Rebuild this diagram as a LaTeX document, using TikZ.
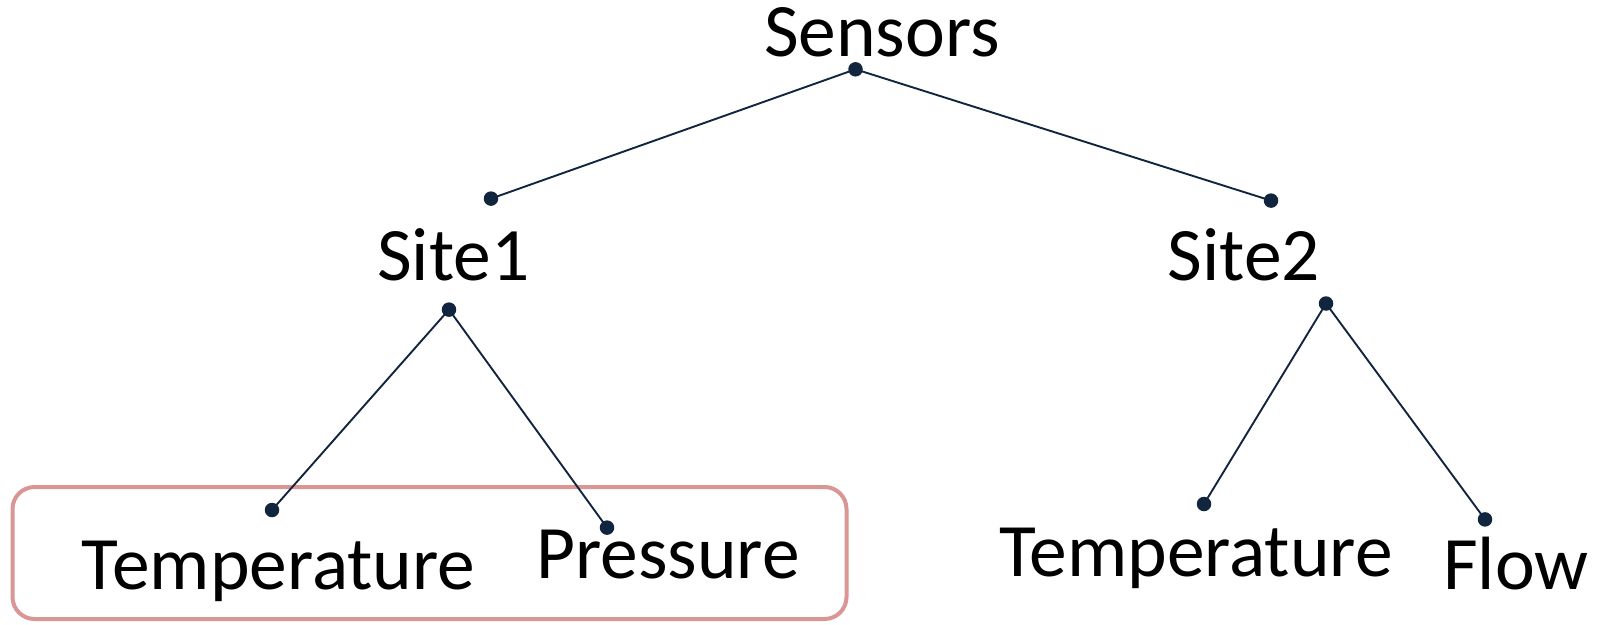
\documentclass[tikz,border=0pt]{standalone}
\usepackage{fontspec}
\setmainfont{Carlito}
\definecolor{navy}{HTML}{12253F}
\definecolor{rosebox}{HTML}{D99694}
\begin{document}
\begin{tikzpicture}[x=1pt,y=-1pt,
  dot/.style={circle,fill=navy,draw=none,inner sep=0pt,minimum size=14.5pt},
  link/.style={draw=navy,line width=1.9pt},
  lbl/.style={anchor=base,inner sep=0pt,font=\fontsize{75.5}{90}\selectfont,text=black},
  groupbox/.style={draw=rosebox,line width=4pt,rounded corners=22pt}]
\useasboundingbox[fill=white] (0,0) rectangle (1597,624);

% highlighted group around the first site's sensors
\draw[groupbox] (12.5,487) rectangle (846.5,619);

% labels
\node[lbl] (sensors) at (882,56) {Sensors};
\node[lbl] (site1) at (453.5,280) {Site1};
\node[lbl] (site2) at (1244,280) {Site2};
\node[lbl] (temp1) at (278.6,589) {Temperature};
\node[lbl] (press) at (668,578.5) {Pressure};
\node[lbl] (temp2) at (1196,576.5) {Temperature};
\node[lbl] (flow) at (1516,589) {Flow};

% connection points
\node[dot] (dsensors) at (855.5,69.3) {};
\node[dot] (dsite1in) at (491,198.6) {};
\node[dot] (dsite2in) at (1271,200.6) {};
\node[dot] (dsite1out) at (449,309.6) {};
\node[dot] (dsite2out) at (1326,303.5) {};
\node[dot] (dtemp1) at (272,510) {};
\node[dot] (dpress) at (607,527.6) {};
\node[dot] (dtemp2) at (1204,504) {};
\node[dot] (dflow) at (1485,519.4) {};

% tree edges
\draw[link] (dsensors.center) -- (dsite1in.center);
\draw[link] (dsensors.center) -- (dsite2in.center);
\draw[link] (dsite1out.center) -- (dtemp1.center);
\draw[link] (dsite1out.center) -- (dpress.center);
\draw[link] (dsite2out.center) -- (dtemp2.center);
\draw[link] (dsite2out.center) -- (dflow.center);
\end{tikzpicture}
\end{document}
